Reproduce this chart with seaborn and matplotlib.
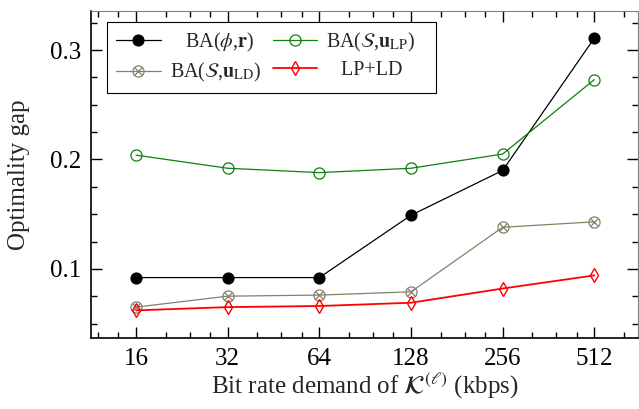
import seaborn as sns
import matplotlib.pyplot as plt
from matplotlib.ticker import FixedLocator, FixedFormatter, MultipleLocator, LogLocator, NullFormatter

# ------------------------------------------------------------
# Data
# ------------------------------------------------------------
rates = [16, 32, 64, 128, 256, 512]
rate_labels = ["16", "32", "64", "128", "256", "512"]

gap_ba_phi_r = [0.092, 0.092, 0.092, 0.149, 0.190, 0.311]
gap_ba_s_ulp = [0.204, 0.192, 0.188, 0.192, 0.205, 0.273]
gap_ba_s_uld = [0.065, 0.075, 0.076, 0.079, 0.138, 0.143]
gap_lp_ld = [0.062, 0.065, 0.066, 0.069, 0.082, 0.094]

# ------------------------------------------------------------
# Style
# ------------------------------------------------------------
sns.set_theme(style="ticks")
plt.rcParams['font.family'] = ['Liberation Serif', 'DejaVu Serif']
plt.rcParams['mathtext.fontset'] = 'stix'

green = '#0f7f0f'
olive = '#858168'

fig = plt.figure(figsize=(6.39, 4.09), dpi=100)
ax = fig.add_axes([0.142, 0.174, 0.8565, 0.7988])

sns.lineplot(x=rates, y=gap_ba_phi_r, ax=ax, color='black', lw=0.9,
             marker='o', ms=8, mfc='black', mec='black')
h_black = ax.lines[-1]

sns.lineplot(x=rates, y=gap_ba_s_ulp, ax=ax, color=green, lw=0.9,
             marker='o', ms=8, mfc='none', mec=green, mew=0.9)
h_green = ax.lines[-1]

sns.lineplot(x=rates, y=gap_ba_s_uld, ax=ax, color=olive, lw=0.9,
             marker='o', ms=8, mfc='none', mec=olive, mew=0.9)
h_olive = ax.lines[-1]
ax.plot(rates, gap_ba_s_uld, ls='none', marker='x', ms=5.5, mec=olive, mew=0.9)
h_olive_x = ax.lines[-1]

sns.lineplot(x=rates, y=gap_lp_ld, ax=ax, color='red', lw=1.3,
             marker='d', ms=7, mfc='none', mec='red', mew=1.0)
h_red = ax.lines[-1]

# ------------------------------------------------------------
# Axes
# ------------------------------------------------------------
ax.set_xscale('log', base=2)
ax.set_xlim(2 ** 3.506, 2 ** 9.477)
ax.xaxis.set_major_locator(FixedLocator(rates))
ax.xaxis.set_major_formatter(FixedFormatter(rate_labels))
ax.xaxis.set_minor_locator(LogLocator(base=2, subs=(1.25, 1.5, 1.75)))
ax.xaxis.set_minor_formatter(NullFormatter())

ax.set_ylim(0.0369, 0.3357)
ax.yaxis.set_major_locator(MultipleLocator(0.1))
ax.yaxis.set_minor_locator(MultipleLocator(0.025))
ax.yaxis.set_major_formatter(plt.FuncFormatter(lambda v, p: f"{v:.1f}"))

ax.tick_params(which='both', direction='in', top=True, right=True,
               colors='black', width=1.0, labelsize=18)
ax.tick_params(which='major', length=8, pad=7)
ax.tick_params(which='minor', length=4)

for side in ['left', 'bottom']:
    ax.spines[side].set_color('black')
    ax.spines[side].set_linewidth(1.2)
for side in ['top', 'right']:
    ax.spines[side].set_color('#808080')
    ax.spines[side].set_linewidth(0.8)

ax.set_xlabel(r'Bit rate demand of $\mathcal{K}^{(\ell)}$ (kbps)', fontsize=18, labelpad=1)
ax.set_ylabel('Optimality gap', fontsize=18, labelpad=14)

# legend filled column-wise: left column black/olive, right column green/red
# trailing no-break spaces give the extra right padding seen in the reference
leg = ax.legend([h_black, (h_olive, h_olive_x), h_green, h_red],
                [r'   BA($\phi$,$\mathbf{r}$)',
                 r'BA($\mathcal{S}$,$\mathbf{u}_{\rm LD}$)',
                 r'BA($\mathcal{S}$,$\mathbf{u}_{\rm LP}$)' + '\u00a0\u00a0\u00a0',
                 r'   LP+LD'],
                loc='upper left', bbox_to_anchor=(0.030, 0.967), ncol=2,
                fontsize=14.5, frameon=True, fancybox=False, framealpha=1,
                edgecolor='black', borderaxespad=0, handlelength=2.2,
                columnspacing=0.6, handletextpad=0.45, labelspacing=0.35,
                borderpad=0.45)
leg.get_frame().set_linewidth(0.8)

plt.savefig('out.png', dpi=100)
